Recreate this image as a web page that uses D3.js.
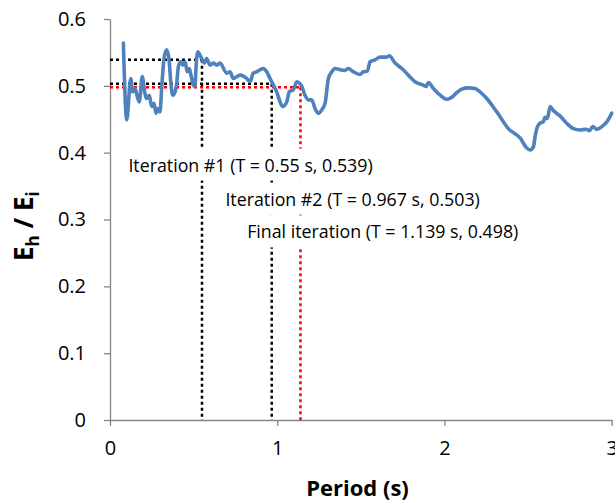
<!DOCTYPE html>
<html>
<head>
<meta charset="utf-8">
<script src="https://cdn.jsdelivr.net/npm/d3@7"></script>
<style>
  html, body { margin: 0; padding: 0; background: #fff; }
  svg { display: block; }
  text { font-family: "Open Sans", "Lato", sans-serif; fill: #000; }
</style>
</head>
<body>
<svg id="chart" width="615" height="502"></svg>
<script>
// ---- data ----
const periods = [0.080,0.100,0.124,0.136,0.150,0.163,0.175,0.193,0.205,0.219,0.235,0.249,0.263,0.275,0.285,0.299,0.309,0.323,0.339,0.353,0.365,0.375,0.389,0.399,0.409,0.423,0.435,0.449,0.462,0.474,0.484,0.498,0.508,0.514,0.525,0.538,0.552,0.564,0.578,0.598,0.618,0.638,0.658,0.698,0.718,0.737,0.778,0.818,0.837,0.857,0.877,0.897,0.917,0.937,0.957,0.977,0.997,1.017,1.033,1.057,1.072,1.096,1.117,1.132,1.147,1.166,1.186,1.206,1.226,1.246,1.266,1.286,1.306,1.326,1.346,1.376,1.405,1.425,1.455,1.495,1.515,1.539,1.555,1.585,1.615,1.655,1.670,1.705,1.745,1.784,1.824,1.874,1.890,1.904,1.934,1.974,2.014,2.044,2.074,2.103,2.143,2.183,2.213,2.253,2.313,2.382,2.452,2.492,2.512,2.532,2.542,2.556,2.576,2.591,2.601,2.615,2.632,2.651,2.691,2.731,2.771,2.811,2.847,2.867,2.887,2.911,2.941,2.971,3.000];
const ratios = [0.564,0.449,0.511,0.491,0.496,0.484,0.476,0.514,0.494,0.481,0.486,0.469,0.474,0.459,0.466,0.461,0.496,0.541,0.554,0.539,0.501,0.486,0.491,0.504,0.529,0.536,0.531,0.536,0.521,0.526,0.516,0.501,0.499,0.526,0.551,0.546,0.539,0.534,0.541,0.531,0.534,0.531,0.534,0.519,0.521,0.511,0.516,0.511,0.506,0.519,0.521,0.524,0.526,0.521,0.511,0.501,0.491,0.476,0.469,0.476,0.491,0.494,0.506,0.504,0.499,0.486,0.479,0.479,0.466,0.459,0.464,0.474,0.511,0.521,0.526,0.524,0.523,0.526,0.521,0.517,0.521,0.522,0.536,0.539,0.543,0.543,0.545,0.534,0.526,0.516,0.506,0.501,0.499,0.505,0.496,0.486,0.480,0.483,0.490,0.495,0.497,0.496,0.491,0.481,0.461,0.436,0.422,0.407,0.404,0.409,0.424,0.439,0.445,0.446,0.453,0.451,0.469,0.463,0.455,0.444,0.436,0.434,0.435,0.433,0.439,0.435,0.439,0.446,0.459];

const iterLabels = ["Iteration #1 (T = 0.55 s, 0.539)", "Iteration #2 (T = 0.967 s, 0.503)", "Final iteration (T = 1.139 s, 0.498)"];
const iterT = [0.55, 0.967, 1.139];
const iterR = [0.539, 0.503, 0.498];
const iterColors = ["#000000", "#000000", "#ff0000"];
// label anchor positions in data units (left x, middle y)
const labelX = [0.11, 0.69, 0.82];
const labelY = [0.381, 0.330, 0.281];

const xTicks = [0, 1, 2, 3];
const yTicks = [0, 0.1, 0.2, 0.3, 0.4, 0.5, 0.6];
const xTitle = "Period (s)";

// ---- layout ----
const svg = d3.select("#chart");
const x = d3.scaleLinear().domain([0, 3]).range([110, 611.7]);
const y = d3.scaleLinear().domain([0, 0.6]).range([420, 19]);
const axisColor = "#868686";

// axes
const gx = svg.append("g").attr("transform", `translate(0,${y(0)})`)
  .call(d3.axisBottom(x).tickValues(xTicks).tickFormat(d3.format("d")).tickSize(6).tickSizeOuter(0).tickPadding(15));
const gy = svg.append("g").attr("transform", `translate(${x(0)},0)`)
  .call(d3.axisLeft(y).tickValues(yTicks).tickFormat(d => d === 0 ? "0" : d3.format(".1f")(d)).tickSize(6).tickSizeOuter(0).tickPadding(18));
[gx, gy].forEach(g => {
  g.select(".domain").attr("stroke", axisColor).attr("stroke-width", 1.3);
  g.selectAll(".tick line").attr("stroke", axisColor).attr("stroke-width", 1.3);
  g.selectAll(".tick text").attr("font-size", 20).attr("font-family", "'Open Sans', sans-serif").attr("fill", "#000");
});

// dotted guide lines
iterT.forEach((t, i) => {
  const g = svg.append("g");
  g.append("line").attr("x1", x(0)).attr("x2", x(t)).attr("y1", y(iterR[i])).attr("y2", y(iterR[i]))
    .attr("stroke", iterColors[i]).attr("stroke-width", 2.5).attr("stroke-dasharray", "3,3");
  g.append("line").attr("x1", x(t)).attr("x2", x(t)).attr("y1", y(iterR[i])).attr("y2", y(0))
    .attr("stroke", iterColors[i]).attr("stroke-width", 2.5).attr("stroke-dasharray", "3,3");
});

// curve
const line = d3.line().x((d, i) => x(periods[i])).y((d, i) => y(ratios[i])).curve(d3.curveMonotoneX);
svg.append("path").datum(ratios).attr("d", line)
  .attr("fill", "none").attr("stroke", "#4f81bd").attr("stroke-width", 3.6)
  .attr("stroke-linejoin", "round").attr("stroke-linecap", "round");

// annotation text boxes
iterLabels.forEach((lab, i) => {
  const t = svg.append("text").attr("x", x(labelX[i])).attr("y", y(labelY[i]))
    .attr("dy", "0.35em").attr("font-size", 17.8).text(lab);
  const bb = t.node().getBBox();
  svg.insert("rect", function(){ return t.node(); })
    .attr("x", bb.x - 5).attr("y", bb.y - 4).attr("width", bb.width + 10).attr("height", bb.height + 8)
    .attr("fill", "#fff");
});

// axis titles
svg.append("text").attr("x", x(1.48)).attr("y", 496).attr("text-anchor", "middle")
  .attr("font-size", 22).attr("font-weight", "bold").text(xTitle);

const yt = svg.append("text").attr("transform", `translate(33,${y(0.29)}) rotate(-90)`)
  .attr("text-anchor", "middle").attr("font-size", 26).attr("font-weight", "bold");
yt.append("tspan").text("E");
yt.append("tspan").attr("font-size", 17).attr("dy", 6).text("h");
yt.append("tspan").attr("dy", -6).text(" / E");
yt.append("tspan").attr("font-size", 17).attr("dy", 6).text("i");
</script>
</body>
</html>
